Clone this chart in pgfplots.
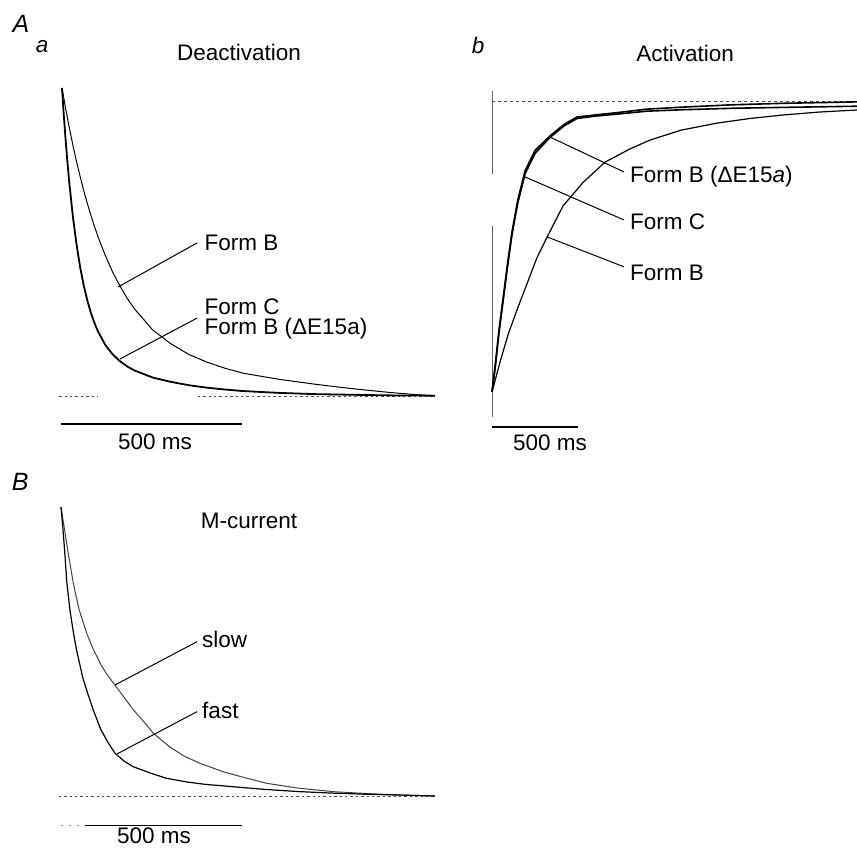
\documentclass[border=0pt]{standalone}
\usepackage{fontspec}
\setmainfont{Liberation Sans}
\usepackage{pgfplots}
\pgfplotsset{compat=1.18}
\pgfplotsset{panel/.style={axis lines=none, scale only axis, clip=false, xtick=\empty, ytick=\empty, anchor=south west}}
\begin{document}
\begin{tikzpicture}[every node/.append style={font=\fontsize{11.25}{13.5}\selectfont, inner sep=0pt}]
\useasboundingbox (0,0) rectangle (428.5pt,424.5pt);
% ---------------- Panel A a : Deactivation
\begin{axis}[panel, at={(31pt,226.5pt)}, width=186.5pt, height=154pt, xmin=0, xmax=1030, ymin=0, ymax=1]
\draw[black!70, dash pattern=on 1.2pt off 1.5pt, line width=0.4pt] (axis cs:-8,0) -- (axis cs:100,0);
\draw[black!70, dash pattern=on 1.2pt off 1.5pt, line width=0.4pt] (axis cs:375,0) -- (axis cs:1030,0);
% Form B (slow)
\addplot[black, line width=0.5pt] coordinates {
(0,1.000) (10,0.934) (20,0.872) (30,0.815) (40,0.762) (50,0.713) (60,0.667) (70,0.625)
(80,0.586) (90,0.549) (100,0.515) (120,0.455) (140,0.402) (160,0.357) (180,0.317)
(200,0.283) (250,0.215) (300,0.170) (350,0.135) (400,0.110) (450,0.090) (500,0.074)
(600,0.054) (700,0.038) (800,0.024) (900,0.012) (960,0.006) (1030,0.000)};
% Form C and Form B (dE15a) (fast)
\addplot[black, line width=0.9pt] coordinates {
(0,1.000) (5,0.911) (10,0.831) (15,0.759) (20,0.694) (30,0.583) (40,0.493) (50,0.419)
(60,0.359) (70,0.310) (80,0.269) (90,0.236) (100,0.208) (120,0.165) (140,0.135)
(160,0.113) (180,0.096) (200,0.083) (250,0.060) (300,0.046) (350,0.035) (400,0.027)
(450,0.021) (500,0.016) (600,0.010) (700,0.006) (800,0.004) (900,0.002) (1030,0.001)};
\draw[black, line width=0.5pt] (axis cs:155,0.354) -- (axis cs:373,0.497);
\draw[black, line width=0.5pt] (axis cs:160,0.120) -- (axis cs:373,0.253);
\node[anchor=west] at (axis cs:393,0.497) {Form B};
\node[anchor=west] at (axis cs:393,0.289) {Form C};
\node[anchor=west] at (axis cs:393,0.218) {Form B (ΔE15a)};
\node at (axis cs:489,1.114) {Deactivation};
\node[font=\fontsize{12.5}{14}\selectfont\itshape] at (axis cs:-113,1.208) {A};
\node[font=\fontsize{11.25}{13.5}\selectfont\itshape] at (axis cs:-55,1.136) {a};
\draw[black, line width=0.6pt] (axis cs:-3,-0.091) -- (axis cs:497,-0.091);
\node at (axis cs:257,-0.149) {500 ms};
\end{axis}
% ---------------- Panel A b : Activation
\begin{axis}[panel, at={(246pt,228.5pt)}, width=182.5pt, height=145.5pt, xmin=0, xmax=2120, ymin=0, ymax=1]
\draw[black!60, line width=0.4pt] (axis cs:0,1.034) -- (axis cs:0,0.749);
\draw[black!60, line width=0.4pt] (axis cs:0,0.570) -- (axis cs:0,-0.086);
\draw[black!70, dash pattern=on 1.5pt off 1.5pt, line width=0.4pt] (axis cs:0,1) -- (axis cs:2120,1);
% Form B (slow)
\addplot[black, line width=0.6pt] coordinates {
(0,0.000) (50,0.11) (95,0.20) (150,0.29) (202,0.37) (260,0.46) (318,0.53) (413,0.64)
(529,0.72) (657,0.79) (800,0.835) (919,0.866) (1100,0.900) (1308,0.924) (1500,0.940)
(1692,0.952) (1900,0.962) (2120,0.969)};
% Form C
\addplot[black, line width=0.8pt] coordinates {
(0,0.00) (20,0.10) (40,0.21) (64,0.32) (90,0.44) (116,0.55) (150,0.66) (192,0.76)
(250,0.83) (337,0.88) (420,0.92) (494,0.945) (600,0.952) (727,0.960) (900,0.972)
(1110,0.979) (1400,0.987) (1692,0.992) (2120,0.997)};
% Form B (dE15a)
\addplot[black, line width=0.8pt] coordinates {
(0,0.00) (20,0.09) (40,0.20) (64,0.31) (90,0.43) (116,0.54) (150,0.65) (192,0.75)
(250,0.82) (337,0.875) (420,0.915) (494,0.940) (600,0.948) (727,0.955) (900,0.965)
(1110,0.970) (1400,0.975) (1692,0.978) (2120,0.982)};
\draw[black, line width=0.5pt] (axis cs:337,0.876) -- (axis cs:767,0.756);
\draw[black, line width=0.5pt] (axis cs:192,0.739) -- (axis cs:767,0.591);
\draw[black, line width=0.5pt] (axis cs:320,0.533) -- (axis cs:767,0.430);
\node[anchor=west] at (axis cs:800,0.739) {Form B (ΔE15\textit{a})};
\node[anchor=west] at (axis cs:800,0.584) {Form C};
\node[anchor=west] at (axis cs:800,0.409) {Form B};
\node at (axis cs:1122,1.165) {Activation};
\node[font=\fontsize{11.25}{13.5}\selectfont\itshape] at (axis cs:-81,1.192) {b};
\draw[black, line width=0.6pt] (axis cs:0,-0.120) -- (axis cs:500,-0.120);
\node at (axis cs:337,-0.175) {500 ms};
\end{axis}
% ---------------- Panel B : M-current
\begin{axis}[panel, at={(30.5pt,26.5pt)}, width=187pt, height=144.5pt, xmin=0, xmax=1033, ymin=0, ymax=1]
\draw[black!70, dash pattern=on 1.2pt off 1.5pt, line width=0.4pt] (axis cs:-6,0) -- (axis cs:1033,0);
% slow
\addplot[black!75, line width=0.5pt] coordinates {
(0,1.000) (10,0.92) (20,0.84) (34,0.736) (50,0.645) (71,0.563) (90,0.505) (110,0.455)
(130,0.415) (149,0.384) (175,0.340) (200,0.298) (230,0.255) (255,0.217) (300,0.170)
(340,0.138) (384,0.113) (450,0.083) (500,0.066) (568,0.044) (650,0.028) (752,0.015)
(850,0.008) (950,0.003) (1033,0.000)};
% fast
\addplot[black, line width=0.6pt] coordinates {
(0,1.000) (5,0.93) (10,0.85) (16,0.74) (25,0.64) (35,0.56) (43,0.505) (60,0.41) (75,0.35)
(89,0.298) (110,0.23) (130,0.185) (149,0.148) (175,0.12) (200,0.101) (250,0.078)
(292,0.061) (350,0.048) (400,0.040) (476,0.032) (560,0.023) (660,0.015) (750,0.010)
(844,0.006) (940,0.003) (1033,0.000)};
\draw[black, line width=0.5pt] (axis cs:149,0.384) -- (axis cs:376,0.534);
\draw[black, line width=0.5pt] (axis cs:154,0.145) -- (axis cs:376,0.292);
\node[anchor=west] at (axis cs:389,0.540) {slow};
\node[anchor=west] at (axis cs:389,0.295) {fast};
\node at (axis cs:519,0.952) {M-current};
\node[font=\fontsize{12.5}{14}\selectfont\itshape] at (axis cs:-113,1.087) {B};
\draw[black!50, dash pattern=on 1pt off 3pt, line width=0.5pt] (axis cs:0,-0.103) -- (axis cs:66,-0.103);
\draw[black, line width=0.6pt] (axis cs:66,-0.103) -- (axis cs:500,-0.103);
\node at (axis cs:257,-0.138) {500 ms};
\end{axis}
\end{tikzpicture}
\end{document}
